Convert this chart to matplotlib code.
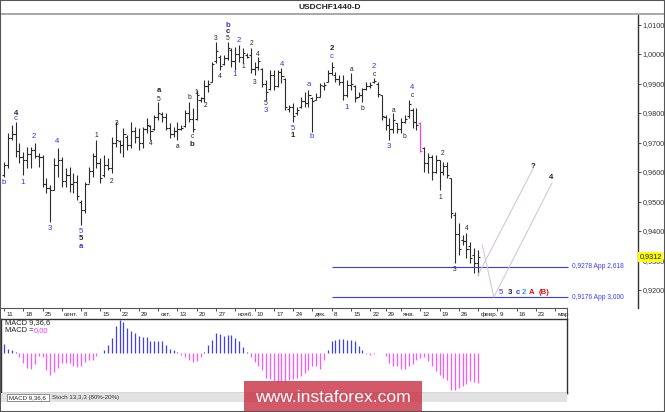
import matplotlib

matplotlib.use("Agg")
import matplotlib.pyplot as plt
from matplotlib.lines import Line2D
from matplotlib.patches import Rectangle
from matplotlib.ticker import FuncFormatter

plt.rcParams["font.family"] = ["Liberation Sans", "DejaVu Sans"]

W, H = 665, 412
X0, DX = 4.0, 3.854  # pixel x of bar 0, pixels per bar
Y0, P0, PY = 290.0, 0.92, 2950.0  # pixel y of price P0, pixels per 1.0 price

# daily bars, USDCHF D1
highs = [
    0.9634, 0.9732, 0.9759, 0.9769, 0.9698, 0.9668, 0.9685, 0.9685, 0.9698, 0.9664,
    0.9658, 0.9580, 0.9556, 0.9647, 0.9681, 0.9651, 0.9614, 0.9617, 0.9597, 0.9590,
    0.9505, 0.9566, 0.9617, 0.9664, 0.9708, 0.9647, 0.9658, 0.9647, 0.9719, 0.9769,
    0.9708, 0.9749, 0.9725, 0.9769, 0.9753, 0.9749, 0.9753, 0.9783, 0.9759, 0.9793,
    0.9837, 0.9803, 0.9800, 0.9766, 0.9753, 0.9769, 0.9759, 0.9810, 0.9837, 0.9817,
    0.9878, 0.9854, 0.9912, 0.9912, 0.9973, 1.0041, 0.9997, 0.9997, 1.0041, 1.0020,
    1.0024, 1.0031, 1.0020, 1.0003, 1.0020, 0.9973, 0.9990, 0.9953, 0.9912, 0.9946,
    0.9946, 0.9946, 0.9953, 0.9919, 0.9827, 0.9834, 0.9820, 0.9854, 0.9871, 0.9878,
    0.9854, 0.9868, 0.9902, 0.9905, 0.9946, 0.9973, 0.9939, 0.9929, 0.9929, 0.9912,
    0.9936, 0.9895, 0.9871, 0.9885, 0.9905, 0.9905, 0.9919, 0.9905, 0.9861, 0.9793,
    0.9783, 0.9800, 0.9766, 0.9783, 0.9793, 0.9844, 0.9817, 0.9817, 0.9769, 0.9685,
    0.9664, 0.9658, 0.9658, 0.9641, 0.9634, 0.9634, 0.9580, 0.9464, 0.9427, 0.9386,
    0.9393, 0.9363, 0.9342, 0.9336,
]
lows = [
    0.9583, 0.9614, 0.9708, 0.9651, 0.9631, 0.9590, 0.9614, 0.9614, 0.9647, 0.9617,
    0.9549, 0.9529, 0.9431, 0.9539, 0.9583, 0.9549, 0.9549, 0.9532, 0.9529, 0.9505,
    0.9420, 0.9461, 0.9563, 0.9583, 0.9614, 0.9563, 0.9583, 0.9607, 0.9597, 0.9685,
    0.9664, 0.9651, 0.9675, 0.9681, 0.9698, 0.9675, 0.9681, 0.9732, 0.9708, 0.9742,
    0.9776, 0.9769, 0.9742, 0.9715, 0.9719, 0.9708, 0.9742, 0.9753, 0.9769, 0.9736,
    0.9776, 0.9837, 0.9837, 0.9871, 0.9905, 0.9970, 0.9946, 0.9963, 0.9980, 0.9956,
    0.9946, 0.9973, 0.9970, 0.9986, 0.9936, 0.9929, 0.9946, 0.9888, 0.9844, 0.9878,
    0.9878, 0.9888, 0.9902, 0.9810, 0.9803, 0.9769, 0.9793, 0.9817, 0.9820, 0.9820,
    0.9736, 0.9844, 0.9854, 0.9878, 0.9905, 0.9929, 0.9905, 0.9895, 0.9844, 0.9854,
    0.9878, 0.9837, 0.9854, 0.9837, 0.9878, 0.9885, 0.9902, 0.9854, 0.9776, 0.9742,
    0.9708, 0.9732, 0.9732, 0.9732, 0.9766, 0.9783, 0.9749, 0.9742, 0.9668, 0.9600,
    0.9597, 0.9573, 0.9597, 0.9539, 0.9590, 0.9580, 0.9444, 0.9292, 0.9319, 0.9353,
    0.9308, 0.9292, 0.9258, 0.9251,
]
opens = [
    0.9590, 0.9625, 0.9715, 0.9730, 0.9670, 0.9650, 0.9640, 0.9660, 0.9675, 0.9655,
    0.9650, 0.9560, 0.9545, 0.9540, 0.9625, 0.9640, 0.9570, 0.9590, 0.9560, 0.9565,
    0.9500, 0.9470, 0.9560, 0.9605, 0.9655, 0.9630, 0.9590, 0.9625, 0.9615, 0.9700,
    0.9705, 0.9690, 0.9720, 0.9690, 0.9740, 0.9720, 0.9700, 0.9745, 0.9755, 0.9745,
    0.9785, 0.9795, 0.9785, 0.9750, 0.9730, 0.9740, 0.9745, 0.9755, 0.9800, 0.9780,
    0.9780, 0.9845, 0.9850, 0.9890, 0.9905, 0.9975, 0.9990, 0.9965, 0.9985, 1.0015,
    0.9975, 1.0000, 0.9990, 0.9995, 0.9995, 0.9950, 0.9955, 0.9950, 0.9900, 0.9880,
    0.9930, 0.9890, 0.9940, 0.9915, 0.9815, 0.9820, 0.9800, 0.9820, 0.9840, 0.9835,
    0.9850, 0.9845, 0.9855, 0.9890, 0.9905, 0.9935, 0.9930, 0.9915, 0.9905, 0.9860,
    0.9895, 0.9890, 0.9855, 0.9860, 0.9880, 0.9890, 0.9905, 0.9900, 0.9860, 0.9785,
    0.9760, 0.9745, 0.9765, 0.9745, 0.9770, 0.9790, 0.9810, 0.9770, 0.9765, 0.9680,
    0.9630, 0.9650, 0.9600, 0.9640, 0.9600, 0.9620, 0.9580, 0.9455, 0.9390, 0.9370,
    0.9365, 0.9350, 0.9320, 0.9290,
]
closes = [
    0.9625, 0.9715, 0.9730, 0.9670, 0.9650, 0.9640, 0.9660, 0.9675, 0.9655, 0.9650,
    0.9560, 0.9545, 0.9540, 0.9625, 0.9640, 0.9570, 0.9590, 0.9560, 0.9565, 0.9520,
    0.9470, 0.9560, 0.9605, 0.9655, 0.9630, 0.9580, 0.9625, 0.9615, 0.9700, 0.9710,
    0.9690, 0.9730, 0.9690, 0.9740, 0.9720, 0.9700, 0.9745, 0.9760, 0.9740, 0.9785,
    0.9800, 0.9785, 0.9750, 0.9730, 0.9740, 0.9745, 0.9750, 0.9800, 0.9780, 0.9745,
    0.9860, 0.9850, 0.9890, 0.9900, 0.9965, 1.0010, 0.9960, 0.9985, 1.0020, 0.9975,
    1.0000, 0.9990, 1.0005, 0.9990, 0.9950, 0.9955, 0.9975, 0.9900, 0.9870, 0.9930,
    0.9890, 0.9940, 0.9925, 0.9820, 0.9820, 0.9790, 0.9810, 0.9840, 0.9835, 0.9860,
    0.9840, 0.9855, 0.9895, 0.9895, 0.9935, 0.9955, 0.9915, 0.9905, 0.9860, 0.9895,
    0.9900, 0.9850, 0.9860, 0.9880, 0.9890, 0.9895, 0.9910, 0.9865, 0.9790, 0.9760,
    0.9745, 0.9775, 0.9745, 0.9770, 0.9780, 0.9830, 0.9770, 0.9760, 0.9670, 0.9630,
    0.9650, 0.9600, 0.9640, 0.9600, 0.9620, 0.9590, 0.9460, 0.9390, 0.9340, 0.9365,
    0.9340, 0.9310, 0.9290, 0.9312,
]
highlight_bar = 108

# MACD 9,36,6 main line
macd = [
    0.0028, 0.0012, 0.0010, 0.0003, -0.0012, -0.0030, -0.0046, -0.0048, -0.0032, -0.0008,
    -0.0012, -0.0050, -0.0065, -0.0058, -0.0045, -0.0030, -0.0030, -0.0030, -0.0040, -0.0043,
    -0.0040, -0.0028, -0.0022, -0.0022, -0.0008, 0.0001, 0.0010, 0.0025, 0.0045, 0.0082,
    0.0098, 0.0093, 0.0075, 0.0065, 0.0060, 0.0052, 0.0047, 0.0047, 0.0035, 0.0035,
    0.0035, 0.0035, 0.0025, 0.0013, 0.0010, 0.0003, -0.0006, -0.0012, -0.0020, -0.0027,
    -0.0025, -0.0012, 0.0003, 0.0024, 0.0040, 0.0060, 0.0058, 0.0050, 0.0055, 0.0055,
    0.0045, 0.0035, 0.0018, 0.0003, -0.0012, -0.0028, -0.0040, -0.0050, -0.0075, -0.0078,
    -0.0084, -0.0086, -0.0084, -0.0086, -0.0082, -0.0078, -0.0075, -0.0070, -0.0060, -0.0050,
    -0.0040, -0.0040, -0.0048, -0.0022, 0.0010, 0.0035, 0.0040, 0.0043, 0.0043, 0.0040,
    0.0038, 0.0037, 0.0022, 0.0010, -0.0002, -0.0005, -0.0003, -0.0001, 0.0001, -0.0010,
    -0.0030, -0.0038, -0.0040, -0.0047, -0.0048, -0.0040, -0.0033, -0.0020, -0.0015, -0.0012,
    -0.0025, -0.0040, -0.0055, -0.0065, -0.0075, -0.0080, -0.0110, -0.0110, -0.0105, -0.0100,
    -0.0093, -0.0085, -0.0088, -0.0090,
]

price_ticks = [0.92, 0.93, 0.94, 0.95, 0.96, 0.97, 0.98, 0.99, 1.00, 1.01]
last_price = 0.9312

date_ticks = [0, 5, 10, 15, 20, 25, 30, 35, 40, 45, 50, 55, 60, 65, 70, 75, 80,
              85, 90, 95, 99, 103, 108, 113, 118, 123, 128, 133, 138, 143]
date_labels = ["11", "18", "25", "сент.", "8", "15", "22", "29", "окт.", "13",
               "20", "27", "нояб.", "10", "17", "24", "дек.", "8", "15", "22",
               "29", "янв.", "12", "19", "26", "февр.", "9", "16", "23", "мар"]

fib_levels = [0.9278, 0.9176]
fib_texts = ["0,9278 App 2,618", "0,9176 App 3,000"]

# forecast paths (bar index, price)
path_up = ([123, 137.3], [0.9251, 0.9612])
path_alt = ([124.1, 127.1, 142.2], [0.9353, 0.9176, 0.9563])

BLUE, DARK, RED, CYAN = "#3333ee", "#222222", "#dd1111", "#2aa0ff"
# wave marks: bar, price, text, colour, bold
waves = [
    (3.1, 0.9800, "4", DARK, True), (3.1, 0.9780, "c", BLUE, False),
    (0.0, 0.9563, "b", BLUE, False), (4.9, 0.9563, "1", BLUE, False),
    (7.8, 0.9719, "2", BLUE, False), (13.8, 0.9705, "4", BLUE, False),
    (11.9, 0.9410, "3", BLUE, False), (20.0, 0.9397, "5", BLUE, False),
    (20.0, 0.9373, "5", DARK, True), (20.0, 0.9346, "a", BLUE, True),
    (23.9, 0.9725, "1", DARK, False), (28.0, 0.9569, "2", DARK, False),
    (29.1, 0.9763, "3", DARK, False), (40.2, 0.9875, "a", DARK, True),
    (40.2, 0.9847, "5", DARK, False), (38.1, 0.9698, "4", DARK, False),
    (45.1, 0.9685, "a", DARK, False), (48.0, 0.9851, "b", DARK, False),
    (48.8, 0.9722, "c", DARK, False), (48.8, 0.9692, "b", DARK, True),
    (49.8, 0.9868, "1", DARK, False), (52.2, 0.9824, "2", DARK, False),
    (55.0, 1.0054, "3", DARK, False), (56.0, 0.9925, "4", DARK, False),
    (58.1, 1.0098, "b", BLUE, True), (58.1, 1.0075, "c", DARK, True),
    (58.1, 1.0051, "5", DARK, False), (61.0, 1.0047, "2", BLUE, False),
    (59.9, 0.9929, "1", BLUE, False), (62.0, 0.9959, "1", DARK, False),
    (64.1, 1.0037, "2", DARK, False), (65.9, 1.0000, "4", DARK, False),
    (65.1, 0.9905, "3", DARK, False), (72.1, 0.9966, "4", BLUE, False),
    (68.0, 0.9831, "5", DARK, False), (68.0, 0.9807, "3", BLUE, False),
    (75.0, 0.9749, "5", BLUE, False), (75.0, 0.9725, "1", DARK, True),
    (79.9, 0.9719, "b", BLUE, False), (79.1, 0.9895, "a", BLUE, False),
    (85.1, 1.0017, "2", DARK, True), (85.1, 0.9990, "c", BLUE, False),
    (90.3, 0.9946, "a", DARK, False), (89.0, 0.9820, "1", BLUE, False),
    (92.9, 0.9814, "b", DARK, False), (96.0, 0.9956, "2", BLUE, False),
    (96.0, 0.9929, "c", DARK, False), (101.2, 0.9810, "a", DARK, False),
    (104.0, 0.9722, "b", DARK, False), (105.9, 0.9885, "4", BLUE, False),
    (105.9, 0.9858, "c", DARK, False), (99.9, 0.9685, "3", BLUE, False),
    (113.9, 0.9664, "2", DARK, False), (113.1, 0.9512, "1", DARK, False),
    (120.1, 0.9410, "4", DARK, False), (117.0, 0.9268, "3", DARK, False),
    (137.3, 0.9620, "?", DARK, True), (141.9, 0.9583, "4", DARK, True),
    (129.0, 0.9190, "5", BLUE, False), (131.3, 0.9190, "3", DARK, True),
    (133.3, 0.9190, "c", BLUE, True), (135.0, 0.9190, "2", CYAN, True),
    (137.0, 0.9190, "A", RED, True), (140.1, 0.9190, "(B)", RED, True),
]


def frac(x0, y0, x1, y1):
    return [x0 / W, 1 - y1 / H, (x1 - x0) / W, (y1 - y0) / H]


def bar_at(px):
    return (px - X0) / DX


def price_at(py):
    return P0 + (Y0 - py) / PY


def comma(v, _=None):
    return f"{v:.4f}".replace(".", ",")


fig = plt.figure(figsize=(W / 100, H / 100), dpi=100)
fig.patch.set_facecolor("white")

# price window
ax = fig.add_axes(frac(1, 15, 638, 308))
ax.set_xlim(bar_at(1), bar_at(638))
ax.set_ylim(price_at(308), price_at(15))
for s in ("left", "top", "bottom"):
    ax.spines[s].set_visible(False)
ax.spines["right"].set_color("#333333")
ax.spines["right"].set_linewidth(1.0)
ax.set_xticks([])
ax.yaxis.tick_right()
ax.set_yticks(price_ticks)
ax.yaxis.set_major_formatter(FuncFormatter(comma))
ax.tick_params(axis="y", length=2.5, width=0.6, labelsize=5.2, pad=1, colors="#333333")

idx = list(range(len(highs)))
cols = ["#ff33ff" if i == highlight_bar else "#2b2b2b" for i in idx]
ax.vlines(idx, lows, highs, colors=cols, lw=0.8)
ax.hlines(opens, [i - 0.55 for i in idx], idx, colors=cols, lw=0.8)
ax.hlines(closes, idx, [i + 0.55 for i in idx], colors=cols, lw=0.8)

for lvl, txt in zip(fib_levels, fib_texts):
    ax.hlines(lvl, bar_at(332), bar_at(568), color="#3a3aff", lw=0.8)
    ax.text(bar_at(572), lvl, txt, color="#3a3aff", fontsize=4.8, va="center")

ax.plot(*path_up, color="#d4c8d4", lw=0.8)
ax.plot(*path_alt, color="#d4c8d4", lw=0.8)

for x, y, t, c, b in waves:
    size = 5.6 if (c != DARK or b) else 4.8
    ax.text(x, y, t, color=c, fontsize=size, fontweight="bold" if b else "normal",
            ha="center", va="center")

# current price marker sits over the 0,9300 scale label, as in the terminal
ax.text(1.002, last_price, comma(last_price), transform=ax.get_yaxis_transform(),
        fontsize=5.2, va="center", ha="left", color="#111111", zorder=5,
        bbox=dict(facecolor="#ffff00", edgecolor="none", pad=0.8))

# date scale
axd = fig.add_axes(frac(1, 308, 567, 319))
axd.set_xlim(bar_at(1), bar_at(567))
axd.set_ylim(0, 1)
axd.set_xticks([])
axd.set_yticks([])
for s in ("left", "bottom"):
    axd.spines[s].set_visible(False)
for s in ("top", "right"):
    axd.spines[s].set_color("#555555")
    axd.spines[s].set_linewidth(0.8)
axd.vlines(date_ticks, 0.72, 1.0, color="#333333", lw=0.6)
for t, lab in zip(date_ticks, date_labels):
    axd.text(t + 0.6, 0.38, lab, fontsize=4.6, va="center", ha="left", color="#222222")

# MACD window
axm = fig.add_axes(frac(1, 319, 567, 393))
axm.set_xlim(bar_at(1), bar_at(567))
axm.set_ylim(-0.0120, 0.0102)
axm.set_xticks([])
axm.set_yticks([])
for s in axm.spines.values():
    s.set_color("#333333")
    s.set_linewidth(1.0)
mcols = ["#4040ee" if v >= 0 else "#ff55ff" for v in macd]
axm.vlines(idx, 0, macd, colors=mcols, lw=0.9)
fig.text(5 / W, 1 - 323 / H, "MACD 9,36,6", fontsize=5.4, va="center", color="#222222")
fig.text(5 / W, 1 - 331 / H, "MACD =", fontsize=5.4, va="center", color="#222222")
fig.text(34 / W, 1 - 331 / H, "0,00", fontsize=5.4, va="center", color="#ff33ff")

# tabs strip
fig.add_artist(Rectangle((1 / W, 1 - 402 / H), 566 / W, 9 / H, transform=fig.transFigure,
                         facecolor="#e2e2e2", edgecolor="none"))
fig.add_artist(Rectangle((7 / W, 1 - 401 / H), 42 / W, 7 / H, transform=fig.transFigure,
                         facecolor="white", edgecolor="#666666", lw=0.5))
fig.text(9 / W, 1 - 397.5 / H, "MACD 9,36,6", fontsize=4.4, va="center", color="#222222")
fig.text(52 / W, 1 - 397.5 / H, "Stoch 13,3,3 (80%-20%)", fontsize=4.4, va="center",
         color="#333333")

# title bar
fig.text(330 / W, 1 - 7.5 / H, "USDCHF1440-D", fontsize=6, fontweight="bold",
         ha="center", va="center", color="#222222")
fig.add_artist(Line2D([0, 1], [1 - 14 / H] * 2, transform=fig.transFigure,
                      color="#a8a8a8", lw=1.4))

# watermark
fig.add_artist(Rectangle((244 / W, 0), 178 / W, 31 / H, transform=fig.transFigure,
                         facecolor="#c92f42", edgecolor="none", alpha=0.8, zorder=10))
fig.text(333 / W, 1 - 397 / H, "www.instaforex.com", fontsize=12.6, color="white",
         ha="center", va="center", zorder=11)

fig.add_artist(Rectangle((0, 0), 1, 1, transform=fig.transFigure, fill=False,
                         edgecolor="#555555", lw=1.5, zorder=12))

fig.savefig("out.png", dpi=100)
